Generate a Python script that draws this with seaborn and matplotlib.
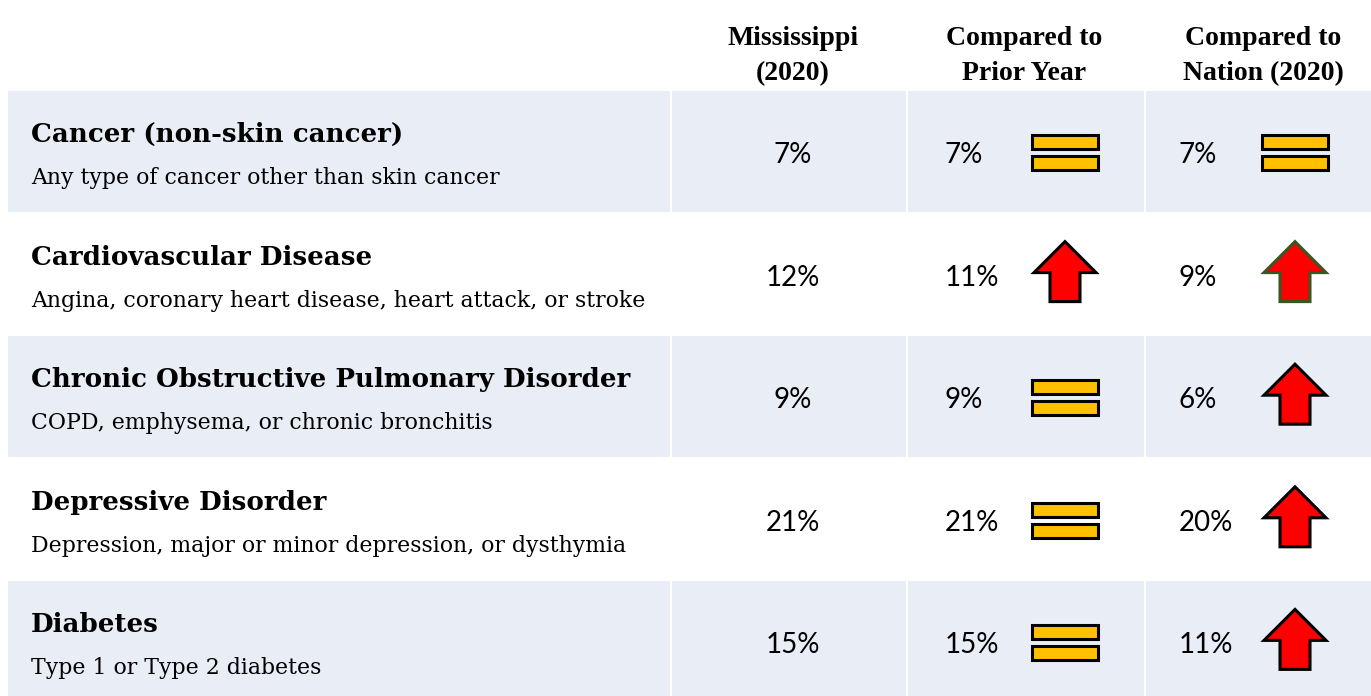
import matplotlib
matplotlib.use("Agg")
import matplotlib.pyplot as plt
import matplotlib.patches as mpatches
import seaborn as sns

# table content
conditions = ["Cancer (non-skin cancer)", "Cardiovascular Disease",
              "Chronic Obstructive Pulmonary Disorder", "Depressive Disorder", "Diabetes"]
descriptions = ["Any type of cancer other than skin cancer",
                "Angina, coronary heart disease, heart attack, or stroke",
                "COPD, emphysema, or chronic bronchitis",
                "Depression, major or minor depression, or dysthymia",
                "Type 1 or Type 2 diabetes"]
ms_2020 = [7, 12, 9, 21, 15]
prior_year = [7, 11, 9, 21, 15]
nation_2020 = [7, 9, 6, 20, 11]
prior_trend = ["same", "up", "same", "same", "same"]
nation_trend = ["same", "up", "up", "up", "up"]
headers = [("Mississippi", "(2020)"), ("Compared to", "Prior Year"), ("Compared to", "Nation (2020)")]

sns.set_theme(style="white")
plt.rcParams["text.color"] = "black"
serif = ["DejaVu Serif"]
head_font = ["Liberation Serif", "DejaVu Serif"]
sans = ["Lato", "DejaVu Sans"]

W, H = 1371, 696
fig = plt.figure(figsize=(W / 100, H / 100), dpi=100)
ax = fig.add_axes([0, 0, 1, 1])
ax.set_xlim(0, W)
ax.set_ylim(H, 0)
ax.axis("off")

band = "#E9EDF6"
top0, row_h = 91, 122.6
col_edges = [8, 672, 908, 1146, W]
header_x = [793, 1024, 1263]


def draw_equals(cx, cy):
    for dy in (-17, 4):
        ax.add_patch(mpatches.Rectangle((cx - 33, cy + dy), 66, 14, facecolor="#FFC000",
                                        edgecolor="black", lw=2.2, zorder=3))


def draw_arrow(cx, top, edge):
    pts = [(cx, top), (cx + 31, top + 31), (cx + 15, top + 31), (cx + 15, top + 60),
           (cx - 15, top + 60), (cx - 15, top + 31), (cx - 31, top + 31)]
    ax.add_patch(mpatches.Polygon(pts, closed=True, facecolor="#FF0000",
                                  edgecolor=edge, lw=2.2, joinstyle="miter", zorder=3))


def draw_icon(kind, cx, y0, edge="black"):
    if kind == "same":
        draw_equals(cx, y0 + 61)
    else:
        draw_arrow(cx, y0 + 28, edge)


# header
for hx, (l1, l2) in zip(header_x, headers):
    ax.text(hx, 45, l1, ha="center", va="baseline", fontsize=20, fontweight="bold", family=head_font)
    ax.text(hx, 80, l2, ha="center", va="baseline", fontsize=20, fontweight="bold", family=head_font)

for i, cond in enumerate(conditions):
    y0 = top0 + i * row_h
    if i % 2 == 0:
        for a, b in zip(col_edges[:-1], col_edges[1:]):
            ax.add_patch(mpatches.Rectangle((a, y0), b - a - (2 if b < W else 0), row_h - 1.5,
                                            facecolor=band, edgecolor="none", zorder=1))
    ax.text(31, y0 + 51, cond, ha="left", va="baseline", fontsize=18.8, fontweight="bold",
            family=serif, zorder=4)
    ax.text(31, y0 + 93, descriptions[i], ha="left", va="baseline", fontsize=15.8,
            family=serif, zorder=4)
    yb = y0 + 72
    ax.text(793, yb, f"{ms_2020[i]}%", ha="center", va="baseline", fontsize=20,
            family=sans, zorder=4)
    ax.text(945, yb, f"{prior_year[i]}%", ha="left", va="baseline", fontsize=20,
            family=sans, zorder=4)
    ax.text(1179, yb, f"{nation_2020[i]}%", ha="left", va="baseline", fontsize=20,
            family=sans, zorder=4)
    draw_icon(prior_trend[i], 1065, y0)
    draw_icon(nation_trend[i], 1295, y0, edge="#385723" if i == 1 else "black")

fig.savefig("out.png", dpi=100)
